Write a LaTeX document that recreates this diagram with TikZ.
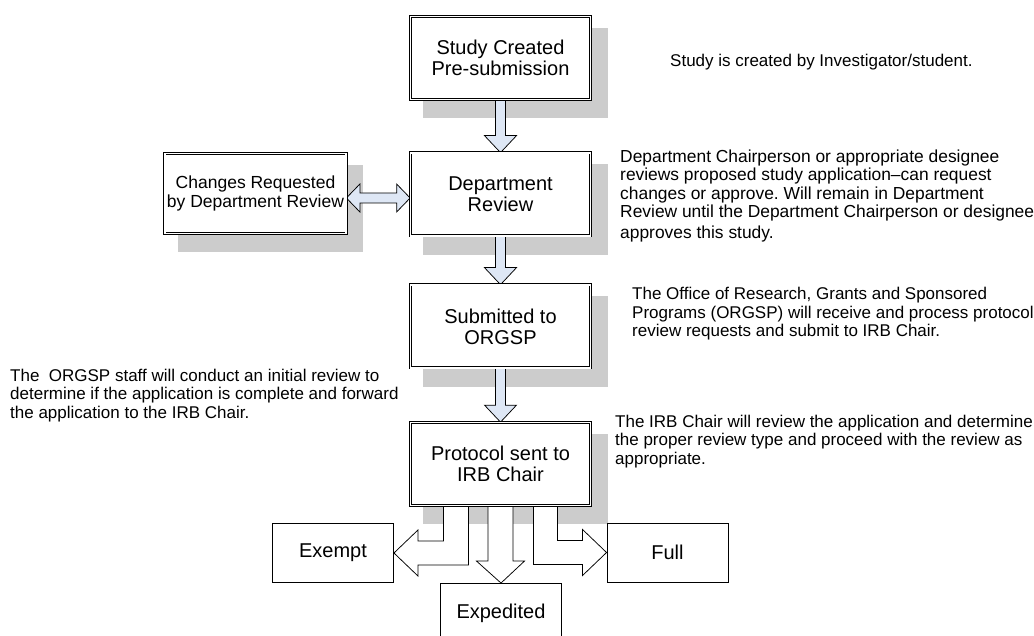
\documentclass[tikz,border=0pt]{standalone}
\usepackage{fontspec}
\setmainfont{Liberation Sans}
\usetikzlibrary{calc,positioning}
\frenchspacing

\pgfdeclarelayer{shade}
\pgfdeclarelayer{arrowlayer}
\pgfsetlayers{shade,arrowlayer,main}

\definecolor{shadowgrey}{RGB}{204,204,204}
\definecolor{arrowfill}{RGB}{222,231,245}

\tikzset{
 stage/.style={draw, double, double distance=1.5pt, line width=0.75pt, fill=white,
   minimum width=180pt, minimum height=83pt, align=center, inner sep=2pt,
   font=\fontsize{20}{21}\selectfont},
 outcome/.style={draw, line width=0.9pt, fill=white, minimum width=121pt,
   minimum height=59pt, font=\fontsize{20}{21}\selectfont},
 note/.style={anchor=north west, inner sep=0pt, align=left,
   font=\fontsize{17}{18.5}\selectfont},
 blockarrow/.style={draw, line width=0.75pt, fill=arrowfill},
 branch/.style={draw, line width=0.75pt, fill=white},
}

\begin{document}
\begin{tikzpicture}[x=1pt,y=-1pt]
\useasboundingbox (0,0) rectangle (1034,636);
\clip (0,0) rectangle (1034,636);

%Stages of the study
\node[stage] (study) at (500.5,58) {Study Created\\Pre-submission};
\node[stage] (deptrev) at (500.5,194.5) {Department\\Review};
\node[stage, minimum width=178pt, minimum height=80pt, font=\fontsize{17.5}{19}\selectfont] (changes) at (255.5,193.5) {Changes Requested\\by Department Review};
\node[stage] (orgsp) at (500.5,326.5) {Submitted to\\ORGSP};
\node[stage] (irbchair) at (500.5,464) {Protocol sent to\\IRB Chair};

%Review types
\node[outcome] (exempt) at (333,553) {Exempt};
\node[outcome] (expedited) at (501,613) {Expedited};
\node[outcome] (full) at (667.5,552.5) {Full};

%Notes
\node[note] (studynote) at (670,53.5) {Study is created by Investigator/student.};
\node[note, font=\fontsize{17.4}{18.5}\selectfont] (deptnote) at (620,149.5) {Department Chairperson or appropriate designee\\
 reviews proposed study application--can request\\
 changes or approve. Will remain in Department\\
 Review until the Department Chairperson or designee\\[2.5pt]
 approves this study.};
\node[note] (orgspnote) at (632,287) {The Office of Research, Grants and Sponsored\\
 Programs (ORGSP) will receive and process protocol\\
 review requests and submit to IRB Chair.};
\node[note] (staffnote) at (10,368.5) {The~ ORGSP staff will conduct an initial review to\\
 determine if the application is complete and forward\\
 the application to the IRB Chair.};
\node[note] (irbnote) at (615,414.5) {The IRB Chair will review the application and determine\\
 the proper review type and proceed with the review as\\
 appropriate.};

%Shadows
\begin{pgfonlayer}{shade}
\foreach \bx in {study,deptrev,changes,orgsp,irbchair}
 \fill[shadowgrey] ($(\bx.north west)+(13,11.5)$) rectangle ($(\bx.south east)+(17,18.5)$);
\end{pgfonlayer}

\begin{pgfonlayer}{arrowlayer}
%Arrows down the main column
\foreach \src/\dst in {study/deptrev,deptrev/orgsp,orgsp/irbchair}
 \draw[blockarrow] let \p1=(\src.south), \p2=(\dst.north) in
  (\x1-5pt,\y1) -- (\x1-5pt,\y2+17pt) -- (\x1-16pt,\y2+17pt) -- (\x1,\y2)
  -- (\x1+16pt,\y2+17pt) -- (\x1+5pt,\y2+17pt) -- (\x1+5pt,\y1);

%Arrow to and from the changes
\coordinate (chgend) at ([yshift=-4.5pt]changes.east);
\coordinate (deptend) at ([yshift=-4.5pt]deptrev.west);
\draw[blockarrow] let \p1=(chgend), \p2=(deptend) in
  (\p1) -- (\x1+13.5pt,\y1+14pt) -- (\x1+13.5pt,\y1+5pt) -- (\x2-13.5pt,\y1+5pt)
  -- (\x2-13.5pt,\y1+14pt) -- (\x2,\y1) -- (\x2-13.5pt,\y1-14pt) -- (\x2-13.5pt,\y1-5pt)
  -- (\x1+13.5pt,\y1-5pt) -- (\x1+13.5pt,\y1-14pt) -- cycle;

%Branches to the review types
\draw[branch] let \p1=(irbchair.south), \p2=(exempt.east) in
  (\x1-57pt,\y1) -- (\x1-57pt,\y2+12pt) -- (\x2+24pt,\y2+12pt) -- (\x2+24pt,\y2+23pt)
  -- (\p2) -- (\x2+24pt,\y2-23pt) -- (\x2+24pt,\y2-12pt) -- (\x1-32pt,\y2-12pt) -- (\x1-32pt,\y1);
\draw[branch] let \p1=(irbchair.south), \p2=(expedited.north) in
  (\x1-12.5pt,\y1) -- (\x1-12.5pt,\y2+22pt) -- (\x1-24pt,\y2+22pt) -- (\x2,\y2)
  -- (\x1+24pt,\y2+22pt) -- (\x1+12.5pt,\y2+22pt) -- (\x1+12.5pt,\y1);
\draw[branch] let \p1=(irbchair.south), \p2=(full.west) in
  (\x1+33pt,\y1) -- (\x1+33pt,\y2-12pt) -- (\x2-24pt,\y2-12pt) -- (\x2-24pt,\y2-23pt)
  -- (\p2) -- (\x2-24pt,\y2+23pt) -- (\x2-24pt,\y2+12pt) -- (\x1+57pt,\y2+12pt) -- (\x1+57pt,\y1);
\end{pgfonlayer}

\end{tikzpicture}
\end{document}
